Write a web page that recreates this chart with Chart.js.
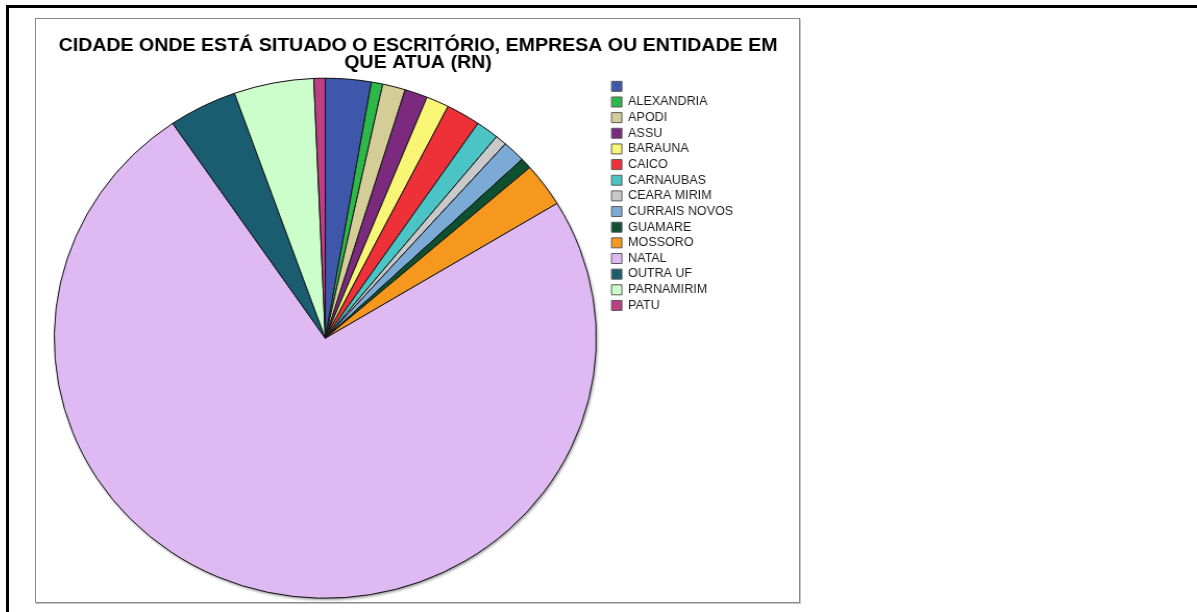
<!DOCTYPE html>
<html>
<head>
<meta charset="utf-8">
<script src="https://cdn.jsdelivr.net/npm/chart.js@4/dist/chart.umd.min.js"></script>
<style>
  html, body { margin: 0; padding: 0; background: #fff; width: 1197px; height: 612px; overflow: hidden; }
  .frame { position: absolute; left: 6px; top: 5px; width: 1300px; height: 700px;
           border-left: 3px solid #000; border-top: 3px solid #000; }
  .box { position: absolute; left: 35px; top: 18px; width: 763px; height: 583px;
         border: 1px solid #8a8a8a; box-shadow: 1px 1px 0 #c4c4c4; background: #fff; }
  /* the plot is drawn at 732 units wide and shown slightly widened */
  #grafico { display: block; width: 763px; height: 583px; }
</style>
</head>
<body>
<div class="frame"></div>
<div class="box"><canvas id="grafico" width="732" height="583" style="width:763px;height:583px"></canvas></div>
<script>
// Cidades informadas e número de respostas em cada uma
const cidades = ['', 'ALEXANDRIA', 'APODI', 'ASSU', 'BARAUNA', 'CAICO', 'CARNAUBAS',
  'CEARA MIRIM', 'CURRAIS NOVOS', 'GUAMARE', 'MOSSORO', 'NATAL', 'OUTRA UF', 'PARNAMIRIM', 'PATU'];
const respostas = [4, 1, 2, 2, 2, 3, 2, 1, 2, 1, 4, 109, 6, 7, 1];
const cores = ['#3E57AA', '#2DB84B', '#D5CD98', '#7B2A7E', '#FAF675', '#EE3139', '#4BC4C6',
  '#C9C9C9', '#7BAAD7', '#0E5130', '#F7981E', '#DEB9F2', '#1A5D70', '#CCFECC', '#BC3E85'];
const titulo = ['CIDADE ONDE ESTÁ SITUADO O ESCRITÓRIO, EMPRESA OU ENTIDADE EM', 'QUE ATUA (RN)'];

const fonte = '"Liberation Sans", Arial, Helvetica, sans-serif';

// soft drop shadow under the pie's rim
const sombra = {
  id: 'sombra',
  beforeDatasetsDraw(chart) {
    const arc = chart.getDatasetMeta(0).data[0];
    if (!arc) return;
    const ctx = chart.ctx;
    ctx.save();
    ctx.shadowColor = 'rgba(0,0,0,0.45)';
    ctx.shadowBlur = 3;
    ctx.shadowOffsetX = 1;
    ctx.shadowOffsetY = 1.5;
    ctx.beginPath();
    ctx.arc(arc.x, arc.y, arc.outerRadius, 0, Math.PI * 2);
    ctx.fillStyle = '#333';
    ctx.fill();
    ctx.restore();
  }
};

// centre the title over the whole panel rather than the area left of the legend
const tituloLargo = {
  id: 'tituloLargo',
  afterLayout(chart) {
    const t = chart.titleBlock;
    if (t) { t.left = 1; t.right = chart.width; t.width = t.right - t.left; }
  }
};

new Chart(document.getElementById('grafico'), {
  type: 'pie',
  data: {
    labels: cidades,
    datasets: [{
      data: respostas,
      backgroundColor: cores,
      borderColor: '#161616',
      borderWidth: 1
    }]
  },
  options: {
    responsive: false,
    animation: false,
    radius: 260,
    layout: { padding: { left: 6.6, right: 53.2, top: 0, bottom: 2.25 } },
    plugins: {
      title: {
        display: true,
        text: titulo,
        color: '#000',
        font: { family: fonte, size: 18.8, weight: 'bold', lineHeight: 0.9 },
        padding: { top: 18.5, bottom: 5.35 }
      },
      legend: {
        position: 'right',
        align: 'start',
        fullSize: false,
        labels: {
          boxWidth: 10,
          boxHeight: 10,
          padding: 3.65,
          color: '#1c1c1c',
          font: { family: fonte, size: 12 },
          generateLabels(chart) {
            return Chart.overrides.pie.plugins.legend.labels.generateLabels(chart)
              .map(item => Object.assign(item, { strokeStyle: '#5a5a5a', lineWidth: 1 }));
          }
        }
      },
      tooltip: { enabled: false }
    }
  },
  plugins: [sombra, tituloLargo]
});
</script>
</body>
</html>
